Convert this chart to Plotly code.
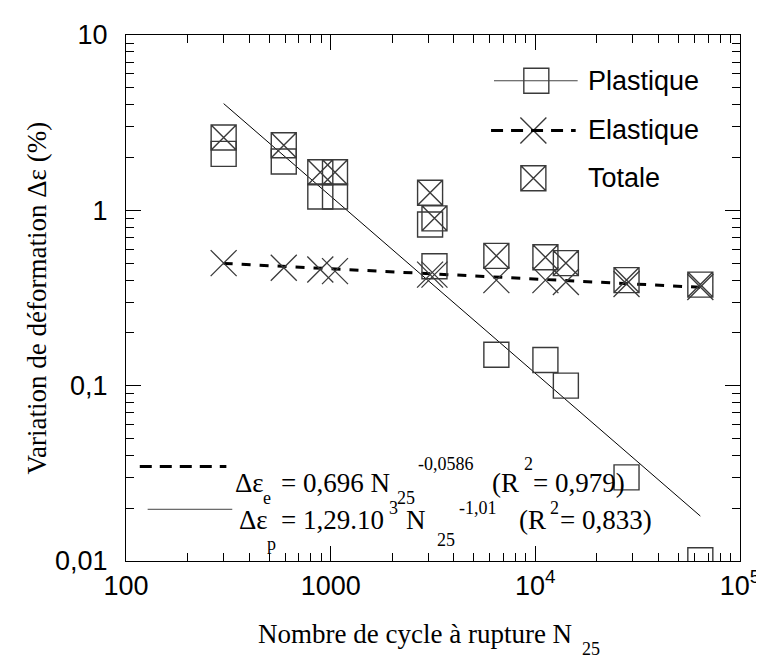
import numpy as np
import plotly.graph_objects as go

# ---- data ----
N_cycles = [300, 590, 890, 1050, 3060, 3215, 6450, 11200, 14100, 27900, 64000]
plastique = [2.1, 1.9, 1.2, 1.2, 0.83, 0.48, 0.15, 0.14, 0.10, 0.030, 0.0101]
elastique = [0.50, 0.47, 0.46, 0.45, 0.43, 0.43, 0.40, 0.40, 0.39, 0.38, 0.365]
totale = [2.6, 2.35, 1.65, 1.65, 1.26, 0.90, 0.55, 0.54, 0.50, 0.40, 0.377]

# fit coefficients printed on the chart
fit_e = (0.696, -0.0586)
fit_p = (1.29e3, -1.01)
fit_range = [300, 64000]

x_tickvals = [100, 1000, 1e4, 1e5]
x_ticktext = ["100", "1000", "10<sup>4</sup>", "10<sup>5</sup>"]
y_tickvals = [0.01, 0.1, 1, 10]
y_ticktext = ["0,01", "0,1", "1", "10"]

# ---- layout geometry (pixels) ----
W, H = 764, 659
L, R, T, B = 118, 742, 24, 553
SANS = "Liberation Sans, Arial, sans-serif"
SERIF = "Liberation Serif, Times New Roman, serif"
MCOL = "#3a3a3a"


def px(x):
    return (x - L) / (R - L)


def py(y):
    return (B - y) / (B - T)


fig = go.Figure()

fr = np.array(fit_range, dtype=float)
fig.add_trace(go.Scatter(x=fr, y=fit_e[0] * fr ** fit_e[1], mode="lines",
                         line=dict(color="black", width=3, dash="9px,9px"),
                         showlegend=False, hoverinfo="skip"))
fig.add_trace(go.Scatter(x=fr, y=fit_p[0] * fr ** fit_p[1], mode="lines",
                         line=dict(color="black", width=1),
                         showlegend=False, hoverinfo="skip"))

fig.add_trace(go.Scatter(x=N_cycles, y=plastique, mode="markers", name="Plastique",
                         marker=dict(symbol="square-open", size=25,
                                     line=dict(color=MCOL, width=1.4), color=MCOL),
                         showlegend=False))
fig.add_trace(go.Scatter(x=N_cycles, y=totale, mode="markers", name="Totale",
                         marker=dict(symbol="square-x-open", size=25,
                                     line=dict(color=MCOL, width=1.4), color=MCOL),
                         showlegend=False))
fig.add_trace(go.Scatter(x=N_cycles, y=elastique, mode="markers", name="Elastique",
                         marker=dict(symbol="x-thin-open", size=26,
                                     line=dict(color=MCOL, width=1.3), color=MCOL),
                         showlegend=False))

# ---- legend glyph markers on an overlay paper-like axis ----
leg_names = ["Plastique", "Elastique", "Totale"]
leg_sym = ["square-open", "x-thin-open", "square-x-open"]
leg_y = [70, 120, 168]
leg_mx = [535, 532, 532]
for nm, sym, yy, mx in zip(leg_names, leg_sym, leg_y, leg_mx):
    fig.add_trace(go.Scatter(x=[px(mx)], y=[py(yy)], xaxis="x2", yaxis="y2",
                             mode="markers", showlegend=False, hoverinfo="skip",
                             marker=dict(symbol=sym, size=26 if sym == "x-thin-open" else 25,
                                         color=MCOL, line=dict(color=MCOL, width=1.4))))

shapes = [
    dict(type="line", xref="paper", yref="paper", x0=px(492), x1=px(577),
         y0=py(70), y1=py(70), line=dict(color="#444", width=1.2)),
    dict(type="line", xref="paper", yref="paper", x0=px(489), x1=px(575),
         y0=py(120), y1=py(120), line=dict(color="black", width=3, dash="12px,8px")),
    dict(type="line", xref="paper", yref="paper", x0=px(132), x1=px(220),
         y0=py(458), y1=py(458), line=dict(color="black", width=3, dash="12px,8px")),
    dict(type="line", xref="paper", yref="paper", x0=px(140), x1=px(226),
         y0=py(501), y1=py(501), line=dict(color="#444", width=1)),
]

annotations = []


def ann(text, x, y, size, family=SERIF, xanchor="left", angle=0):
    annotations.append(dict(text=text, x=px(x), y=py(y), xref="paper", yref="paper",
                            xanchor=xanchor, yanchor="middle", showarrow=False,
                            textangle=angle, borderpad=0,
                            font=dict(family=family, size=size, color="black")))


for nm, yy in zip(leg_names, leg_y):
    ann(nm, 586, yy, 27, SANS)

# equation 1
ann("Δε", 228, 475, 27)
ann("e", 261, 490, 18, xanchor="center")
ann("= 0,696 N", 275, 475, 27)
ann("25", 392, 490, 18)
ann("-0,0586", 414, 455, 18)
ann("(R", 489, 475, 27)
ann("2", 521, 455, 18)
ann("= 0,979)", 531, 475, 27)
# equation 2
ann("Δε", 232, 512, 27)
ann("p", 266, 536, 18, xanchor="center")
ann("= 1,29.10", 275, 512, 27)
ann("3", 384, 500, 18)
ann("N", 402, 512, 27)
ann("25", 433, 532, 18)
ann("-1,01", 455, 500, 18)
ann("(R", 516, 512, 27)
ann("2", 548, 500, 18)
ann("= 0,833)", 558, 512, 27)

# axis titles
ann("Nombre de cycle à rupture N", 251, 626, 27)
ann("25", 580, 642, 18)
ann("Variation de déformation Δε (%)", 28, (T + B) / 2, 27, xanchor="center", angle=-90)

minor_x = [m * 10 ** e for e in (2, 3, 4) for m in range(2, 10)]
minor_y = [m * 10 ** e for e in (-2, -1, 0) for m in range(2, 10)]

axis_common = dict(showgrid=False, zeroline=False, showline=True, linecolor="black",
                   linewidth=1.3, mirror="ticks", ticks="inside", ticklen=15,
                   tickwidth=1, tickcolor="black",
                   tickfont=dict(family=SANS, size=27, color="black"))

fig.update_layout(
    width=W, height=H,
    margin=dict(l=L, r=W - R, t=T, b=H - B, pad=0),
    paper_bgcolor="white", plot_bgcolor="white",
    showlegend=False,
    xaxis=dict(type="log", range=[2, 5], tickmode="array", tickvals=x_tickvals,
               ticktext=x_ticktext,
               minor=dict(tickmode="array", tickvals=minor_x, ticks="inside", ticklen=8,
                          tickcolor="black", tickwidth=1, showgrid=False),
               **axis_common),
    yaxis=dict(type="log", range=[-2, 1], tickmode="array", tickvals=y_tickvals,
               ticktext=y_ticktext, ticklabelstandoff=12,
               minor=dict(tickmode="array", tickvals=minor_y, ticks="inside", ticklen=8,
                          tickcolor="black", tickwidth=1, showgrid=False),
               **axis_common),
    xaxis2=dict(overlaying="x", range=[0, 1], visible=False, fixedrange=True),
    yaxis2=dict(overlaying="y", range=[0, 1], visible=False, fixedrange=True),
    shapes=shapes,
    annotations=annotations,
)

fig.write_html("out.html")
